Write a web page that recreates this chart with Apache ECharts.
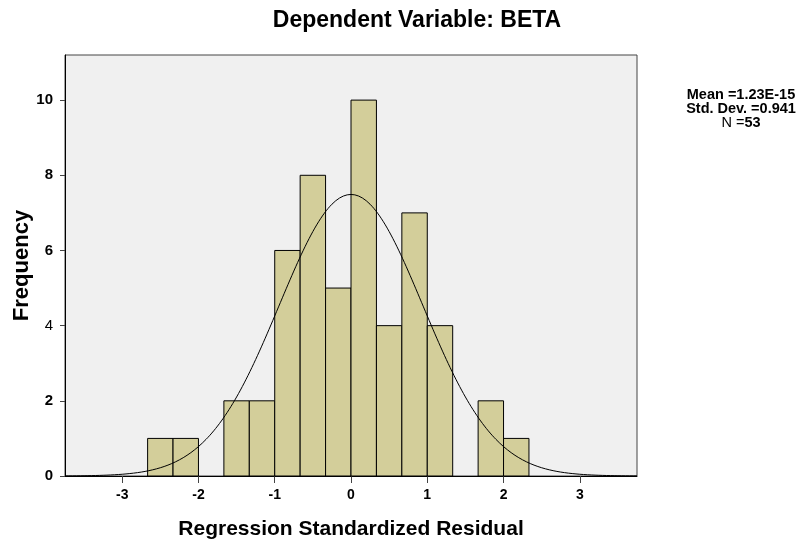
<!DOCTYPE html>
<html>
<head>
<meta charset="utf-8">
<script src="https://cdn.jsdelivr.net/npm/echarts@6/dist/echarts.min.js"></script>
<style>
  html, body { margin: 0; padding: 0; background: #fff; }
  #chart { width: 799px; height: 544px; }
</style>
</head>
<body>
<div id="chart"></div>
<script>
// Histogram of regression standardized residuals (bins of width 1/3)
const binStarts = [-8/3, -7/3, -6/3, -5/3, -4/3, -3/3, -2/3, -1/3, 0, 1/3, 2/3, 3/3, 4/3, 5/3, 6/3];
const binCounts = [1, 1, 0, 2, 2, 6, 8, 5, 10, 4, 7, 4, 0, 2, 1];
const binWidth = 1 / 3;

// Summary statistics shown beside the plot; the normal curve is drawn from them
const statMean = 1.23e-15;
const statSd = 0.941;
const statN = 53;

const xTicks = [-3, -2, -1, 0, 1, 2, 3];
const yTicks = [0, 2, 4, 6, 8, 10];

// Fitted normal curve scaled to counts per bin
const curve = [];
for (let i = 0; i <= 300; i++) {
  const x = -3.75 + i * 7.5 / 300;
  const z = (x - statMean) / statSd;
  const y = statN * binWidth * Math.exp(-0.5 * z * z) / (statSd * Math.sqrt(2 * Math.PI));
  curve.push([x, y]);
}

const bars = binStarts.map((s, i) => [s, s + binWidth, binCounts[i]]).filter(d => d[2] > 0);

const FONT = '"Liberation Sans", Arial, sans-serif';
const chart = echarts.init(document.getElementById('chart'), null, { renderer: 'canvas' });

chart.setOption({
  animation: false,
  backgroundColor: '#ffffff',
  textStyle: { fontFamily: FONT },
  grid: {
    left: 65, right: 162, top: 55, bottom: 68,
    outerBoundsMode: 'none', containLabel: false,
    show: true, backgroundColor: '#F0F0F0', borderColor: '#444', borderWidth: 1
  },
  graphic: [
    {
      type: 'text', x: 417, y: 9,
      style: { text: 'Dependent Variable: BETA', font: 'bold 23px ' + FONT, fill: '#000', align: 'center' }
    },
    {
      type: 'text', x: 741, y: 88,
      style: {
        text: '{b|Mean =1.23E-15}\n{b|Std. Dev. =0.941}\n{n|N =}{b|53}',
        align: 'center',
        rich: {
          b: { font: 'bold 14.5px ' + FONT, fill: '#000', lineHeight: 14 },
          n: { font: '14.5px ' + FONT, fill: '#000', lineHeight: 14 }
        }
      }
    }
  ],
  xAxis: {
    type: 'value', min: -3.75, max: 3.75,
    name: 'Regression Standardized Residual', nameLocation: 'middle', nameGap: 43,
    nameTextStyle: { fontSize: 21, fontWeight: 'bold', color: '#000', fontFamily: FONT },
    axisLine: { show: true, onZero: false, lineStyle: { color: '#000', width: 1 } },
    axisTick: { show: true, length: 7, customValues: xTicks, lineStyle: { color: '#444' } },
    axisLabel: { customValues: xTicks, fontSize: 14, fontWeight: 'bold', color: '#000', margin: 12 },
    splitLine: { show: false }
  },
  yAxis: {
    type: 'value', min: 0, max: 11.2,
    name: 'Frequency', nameLocation: 'middle', nameGap: 32, nameMoveOverlap: false,
    nameTextStyle: { fontSize: 22, fontWeight: 'bold', color: '#000', fontFamily: FONT },
    axisLine: { show: true, onZero: false, lineStyle: { color: '#000', width: 1 } },
    axisTick: { show: true, length: 5, customValues: yTicks, lineStyle: { color: '#444' } },
    axisLabel: {
      customValues: yTicks, margin: 12,
      formatter: v => v === 4 ? '{n|' + v + '}' : '{b|' + v + '}',
      rich: {
        b: { fontSize: 15, fontWeight: 'bold', color: '#000' },
        n: { fontSize: 15, color: '#000' }
      }
    },
    splitLine: { show: false }
  },
  series: [
    {
      type: 'custom',
      data: bars,
      encode: { x: [0, 1], y: 2 },
      renderItem: function (params, api) {
        const p0 = api.coord([api.value(0), 0]);
        const p1 = api.coord([api.value(1), api.value(2)]);
        return {
          type: 'rect',
          shape: { x: p0[0], y: p1[1], width: p1[0] - p0[0], height: p0[1] - p1[1] },
          style: { fill: '#D3CE9A', stroke: '#000', lineWidth: 1 }
        };
      },
      z: 2
    },
    {
      type: 'line', data: curve, showSymbol: false, smooth: false,
      lineStyle: { color: '#000', width: 1 }, z: 3
    }
  ]
});
</script>
</body>
</html>
